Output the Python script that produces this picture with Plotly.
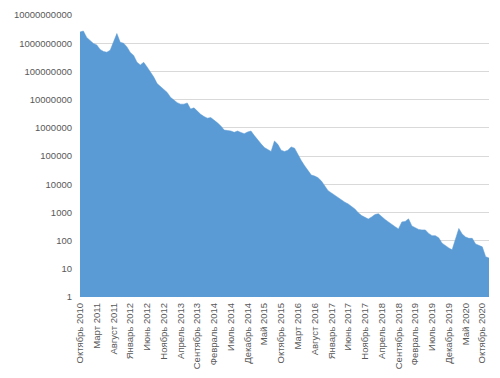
import plotly.graph_objects as go

month_names = ["Январь", "Февраль", "Март", "Апрель", "Май", "Июнь",
               "Июль", "Август", "Сентябрь", "Октябрь", "Ноябрь", "Декабрь"]

# Monthly values, October 2010 .. December 2020
values = [
    2.5e9, 2.7e9, 1.6e9, 1.2e9, 9.8e8, 8.7e8, 6.0e8, 5.1e8, 4.8e8, 5.6e8,
    1.1e9, 2.2e9, 1.07e9, 1.0e9, 7.4e8, 4.7e8, 3.7e8, 2.1e8, 1.7e8, 2.1e8,
    1.44e8, 1.0e8, 6.3e7, 3.7e7, 2.9e7, 2.2e7, 1.8e7, 1.2e7, 9.3e6, 7.8e6,
    6.9e6, 6.9e6, 7.6e6, 4.6e6, 5.1e6, 3.8e6, 3.0e6, 2.5e6, 2.2e6, 2.3e6,
    1.9e6, 1.5e6, 1.17e6, 8.3e5, 8.0e5, 7.7e5, 6.9e5, 7.7e5, 6.8e5, 6.2e5,
    7.1e5, 7.7e5, 5.3e5, 3.7e5, 2.7e5, 2.0e5, 1.65e5, 1.45e5, 3.4e5, 2.6e5,
    1.6e5, 1.45e5, 1.6e5, 2.1e5, 1.9e5, 1.1e5, 6.9e4, 4.5e4, 2.9e4, 2.1e4,
    1.95e4, 1.7e4, 1.3e4, 8.4e3, 5.9e3, 4.9e3, 4.0e3, 3.3e3, 2.75e3, 2.3e3,
    2.0e3, 1.67e3, 1.32e3, 970, 770, 670, 580, 690, 840, 900,
    690, 560, 460, 370, 310, 260, 460, 480, 590, 330,
    290, 250, 240, 240, 180, 150, 150, 125, 81, 65,
    55, 47, 120, 270, 170, 135, 120, 120, 76, 67,
    60, 27, 24,
]

categories = []
year, month = 2010, 10
for _ in values:
    categories.append(f"{month_names[month - 1]} {year}")
    month += 1
    if month > 12:
        month = 1
        year += 1

tick_labels = categories[::5]
baseline = [1] * len(values)

y_tickvals = [10 ** k for k in range(11)]
y_ticktext = [str(10 ** k) for k in range(11)]

fig = go.Figure()
fig.add_trace(go.Scatter(x=categories, y=baseline, mode="lines",
                         line=dict(width=0, color="#5B9BD5"),
                         hoverinfo="skip", showlegend=False))
fig.add_trace(go.Scatter(x=categories, y=values, mode="lines",
                         line=dict(width=0.5, color="#5B9BD5"),
                         fill="tonexty", fillcolor="#5B9BD5",
                         showlegend=False))

font_family = "Liberation Sans, Arial, sans-serif"
fig.update_layout(
    width=500, height=378,
    margin=dict(l=80, r=11, t=15, b=81),
    paper_bgcolor="white", plot_bgcolor="white",
    font=dict(family=font_family, size=9, color="#595959"),
    xaxis=dict(type="category", range=[0, len(values) - 1],
               tickmode="array", tickvals=tick_labels, ticktext=tick_labels,
               tickangle=-90, showgrid=False, showline=False, ticks="",
               automargin=False, ticklabelstandoff=3,
               tickfont=dict(size=9.5, color="#595959")),
    yaxis=dict(type="log", range=[0, 10], tickvals=y_tickvals,
               ticktext=y_ticktext, showgrid=True, gridcolor="#D9D9D9",
               gridwidth=1, zeroline=False, showline=False, ticks="",
               automargin=False, ticklabelstandoff=7,
               tickfont=dict(size=9.5, color="#595959")),
)

fig.write_html("out.html",
               config={"displayModeBar": False},
               post_script="document.body.style.margin='0';"
                           "document.body.style.overflow='hidden';")
